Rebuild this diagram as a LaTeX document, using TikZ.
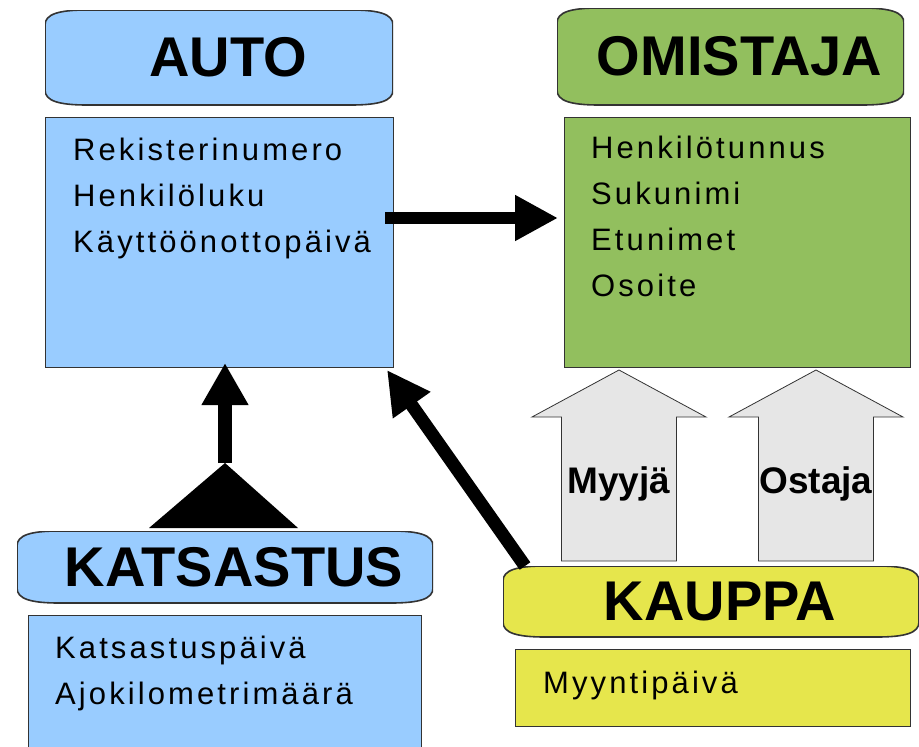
\documentclass[tikz,border=0pt]{standalone}
\usepackage{fontspec}
\setmainfont{Liberation Sans}
\newfontfamily\rivifontti[LetterSpace=10]{Liberation Sans}
\usetikzlibrary{arrows.meta,calc}

\definecolor{autosin}{HTML}{99CCFF}
\definecolor{omvihr}{HTML}{92BF5E}
\definecolor{kaupkel}{HTML}{E6E64C}
\definecolor{nuolihar}{HTML}{E6E6E6}
\definecolor{reuna}{HTML}{333333}

\tikzset{
  kansi/.style={anchor=north west, inner sep=0pt, outer sep=0pt, fill=white,
    font=\fontsize{56}{60}\selectfont\bfseries,
    execute at begin node=\hspace*{18pt},
    path picture={
      \filldraw[fill=#1, draw=reuna, line width=1.6pt]
        let \p1=(path picture bounding box.north west),
            \p2=(path picture bounding box.south east) in
        ({\x1},{\y1-15pt}) .. controls ({\x1},{\y1-4pt}) and ({\x1+14pt},{\y1}) .. ({\x1+42pt},{\y1})
        -- ({\x2-42pt},{\y1}) .. controls ({\x2-14pt},{\y1}) and ({\x2},{\y1-4pt}) .. ({\x2},{\y1-15pt})
        -- ({\x2},{\y2+15pt}) .. controls ({\x2},{\y2+4pt}) and ({\x2-14pt},{\y2}) .. ({\x2-42pt},{\y2})
        -- ({\x1+42pt},{\y2}) .. controls ({\x1+14pt},{\y2}) and ({\x1},{\y2+4pt}) .. ({\x1},{\y2+15pt})
        -- cycle;
    }},
  laatikko/.style={anchor=north west, inner sep=0pt, outer sep=0pt,
    draw=reuna, line width=1pt, fill=#1},
  rivit/.style={anchor=north west, inner sep=0pt, align=left,
    font=\rivifontti\fontsize{31}{46}\selectfont},
  nuoli/.style={line width=12pt, -{Triangle[length=43pt,width=43pt]}},
  lohko/.pic={
    \filldraw[fill=nuolihar, draw=reuna, line width=0.8pt]
      (-57.5,191) -- (-57.5,47) -- (-87,47) -- (0,0) -- (87,47) -- (57.5,47) -- (57.5,191) -- cycle;
  },
  lohkoteksti/.style={anchor=base, inner sep=0pt, font=\fontsize{37}{40}\selectfont\bfseries}
}

\begin{document}
\begin{tikzpicture}[x=1pt,y=-1pt]
\useasboundingbox (0,0) rectangle (919,747);

% AUTO
\node[kansi=autosin, minimum width=348pt, minimum height=95pt] (autoh) at (45,10) {AUTO};
\node[laatikko=autosin, minimum width=348pt, minimum height=250pt] (autob) at (45,117) {};
\node[rivit] (autor) at (73,138) {Rekisterinumero\\Henkilöluku\\Käyttöönottopäivä};

% OMISTAJA
\node[kansi=omvihr, minimum width=347pt, minimum height=97pt] (omh) at (557,8) {OMISTAJA};
\node[laatikko=omvihr, minimum width=346pt, minimum height=250pt] (omb) at (564,117) {};
\node[rivit] (omr) at (591,136) {Henkilötunnus\\Sukunimi\\Etunimet\\Osoite};

% KATSASTUS
\node[kansi=autosin, minimum width=416pt, minimum height=72pt] (kh) at (17,531) {KATSASTUS};
\node[laatikko=autosin, minimum width=393pt, minimum height=145pt] (kb) at (28,615) {};
\node[rivit] (kr) at (55,636) {Katsastuspäivä\\Ajokilometrimäärä};

% KAUPPA
\node[kansi=kaupkel, minimum width=416pt, minimum height=71pt] (kph) at (503,566) {KAUPPA};
\node[laatikko=kaupkel, minimum width=395pt, minimum height=77pt] (kpb) at (515,649) {};
\node[rivit] (kpr) at (543,671) {Myyntipäivä};

% auto -> omistaja
\draw[nuoli] ([xshift=-8pt,yshift=24pt]autob.east) -- ([xshift=-6pt,yshift=24pt]omb.west);

% katsastus -> auto
\coordinate (karki) at ([yshift=68pt]kh.north);
\fill ([xshift=-76pt,yshift=3pt]kh.north) -- (karki) -- ([xshift=73pt,yshift=3pt]kh.north) -- cycle;
\draw[nuoli, line width=14pt, -{Triangle[length=42pt,width=44pt]}] (karki) -- ([yshift=4pt]kh.north |- autob.south);

% kauppa -> auto
\draw[nuoli, line width=13pt] ([xshift=22pt]kph.north west) -- ([xshift=-6pt,yshift=-3pt]autob.south east);

% myyja, ostaja
\pic at (619,370) {lohko};
\pic at (816,370) {lohko};
\node[lohkoteksti] (myyja) at (619,493) {Myyjä};
\node[lohkoteksti] (ostaja) at (816,493) {Ostaja};
\end{tikzpicture}
\end{document}
